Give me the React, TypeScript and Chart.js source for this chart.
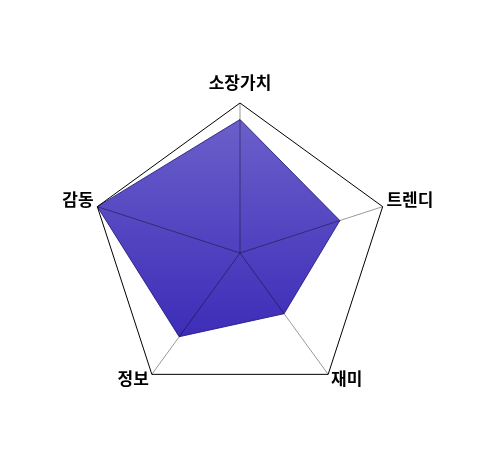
import { useEffect, useRef } from "react";
import Chart from "chart.js/auto";

const labels = ["소장가치", "트렌디", "재미", "정보", "감동"];
const scores = [8.9, 7.0, 5.0, 6.9, 10];
const scaleMax = 10;
const labelGaps = [12, 4, 5, 5, 4];
const labelLineHeights = [1, 0.7, 0, 0, 0.7];

const App = () => {
  const chartRef = useRef<HTMLCanvasElement | null>(null);
  const chartInstance = useRef<Chart<"radar"> | null>(null);

  useEffect(() => {
    if (!chartRef.current) return;
    const ctx = chartRef.current.getContext("2d");
    if (!ctx) return;

    chartInstance.current = new Chart(ctx, {
      type: "radar",
      data: {
        labels: labels,
        datasets: [
          {
            data: scores,
            backgroundColor: (c: any) => {
              const area = c.chart.chartArea;
              if (!area) return "rgb(80,65,190)";
              const g = c.chart.ctx.createLinearGradient(0, 115, 0, 340);
              g.addColorStop(0, "rgb(108,96,202)");
              g.addColorStop(1, "rgb(60,44,184)");
              return g;
            },
            borderColor: "rgba(40,30,130,0.9)",
            borderWidth: 1,
            pointRadius: 0,
            pointHoverRadius: 0,
          },
        ],
      },
      options: {
        animation: false,
        responsive: true,
        maintainAspectRatio: false,
        layout: { padding: { top: 60, bottom: 49, left: 16, right: 23 } },
        plugins: {
          legend: { display: false },
          tooltip: { enabled: false },
        },
        scales: {
          r: {
            min: 0,
            max: scaleMax,
            ticks: { display: false, stepSize: scaleMax, z: 2 },
            grid: { color: "#000", lineWidth: 1, z: 1 },
            angleLines: { color: "rgba(0,0,0,0.4)", lineWidth: 1 },
            pointLabels: {
              color: "#000",
              padding: (c: any) => labelGaps[c.index],
              font: (c: any) => ({
                family: "'Noto Sans CJK KR'",
                size: 17,
                weight: "bold",
                lineHeight: labelLineHeights[c.index],
              }),
            },
          },
        },
      },
    });

    return () => {
      if (chartInstance.current) {
        chartInstance.current.destroy();
        chartInstance.current = null;
      }
    };
  }, []);

  return (
    <div style={{ position: "absolute", left: 0, top: 0, width: 487, height: 468, background: "#fff" }}>
      <canvas ref={chartRef} />
    </div>
  );
};

export default App;
